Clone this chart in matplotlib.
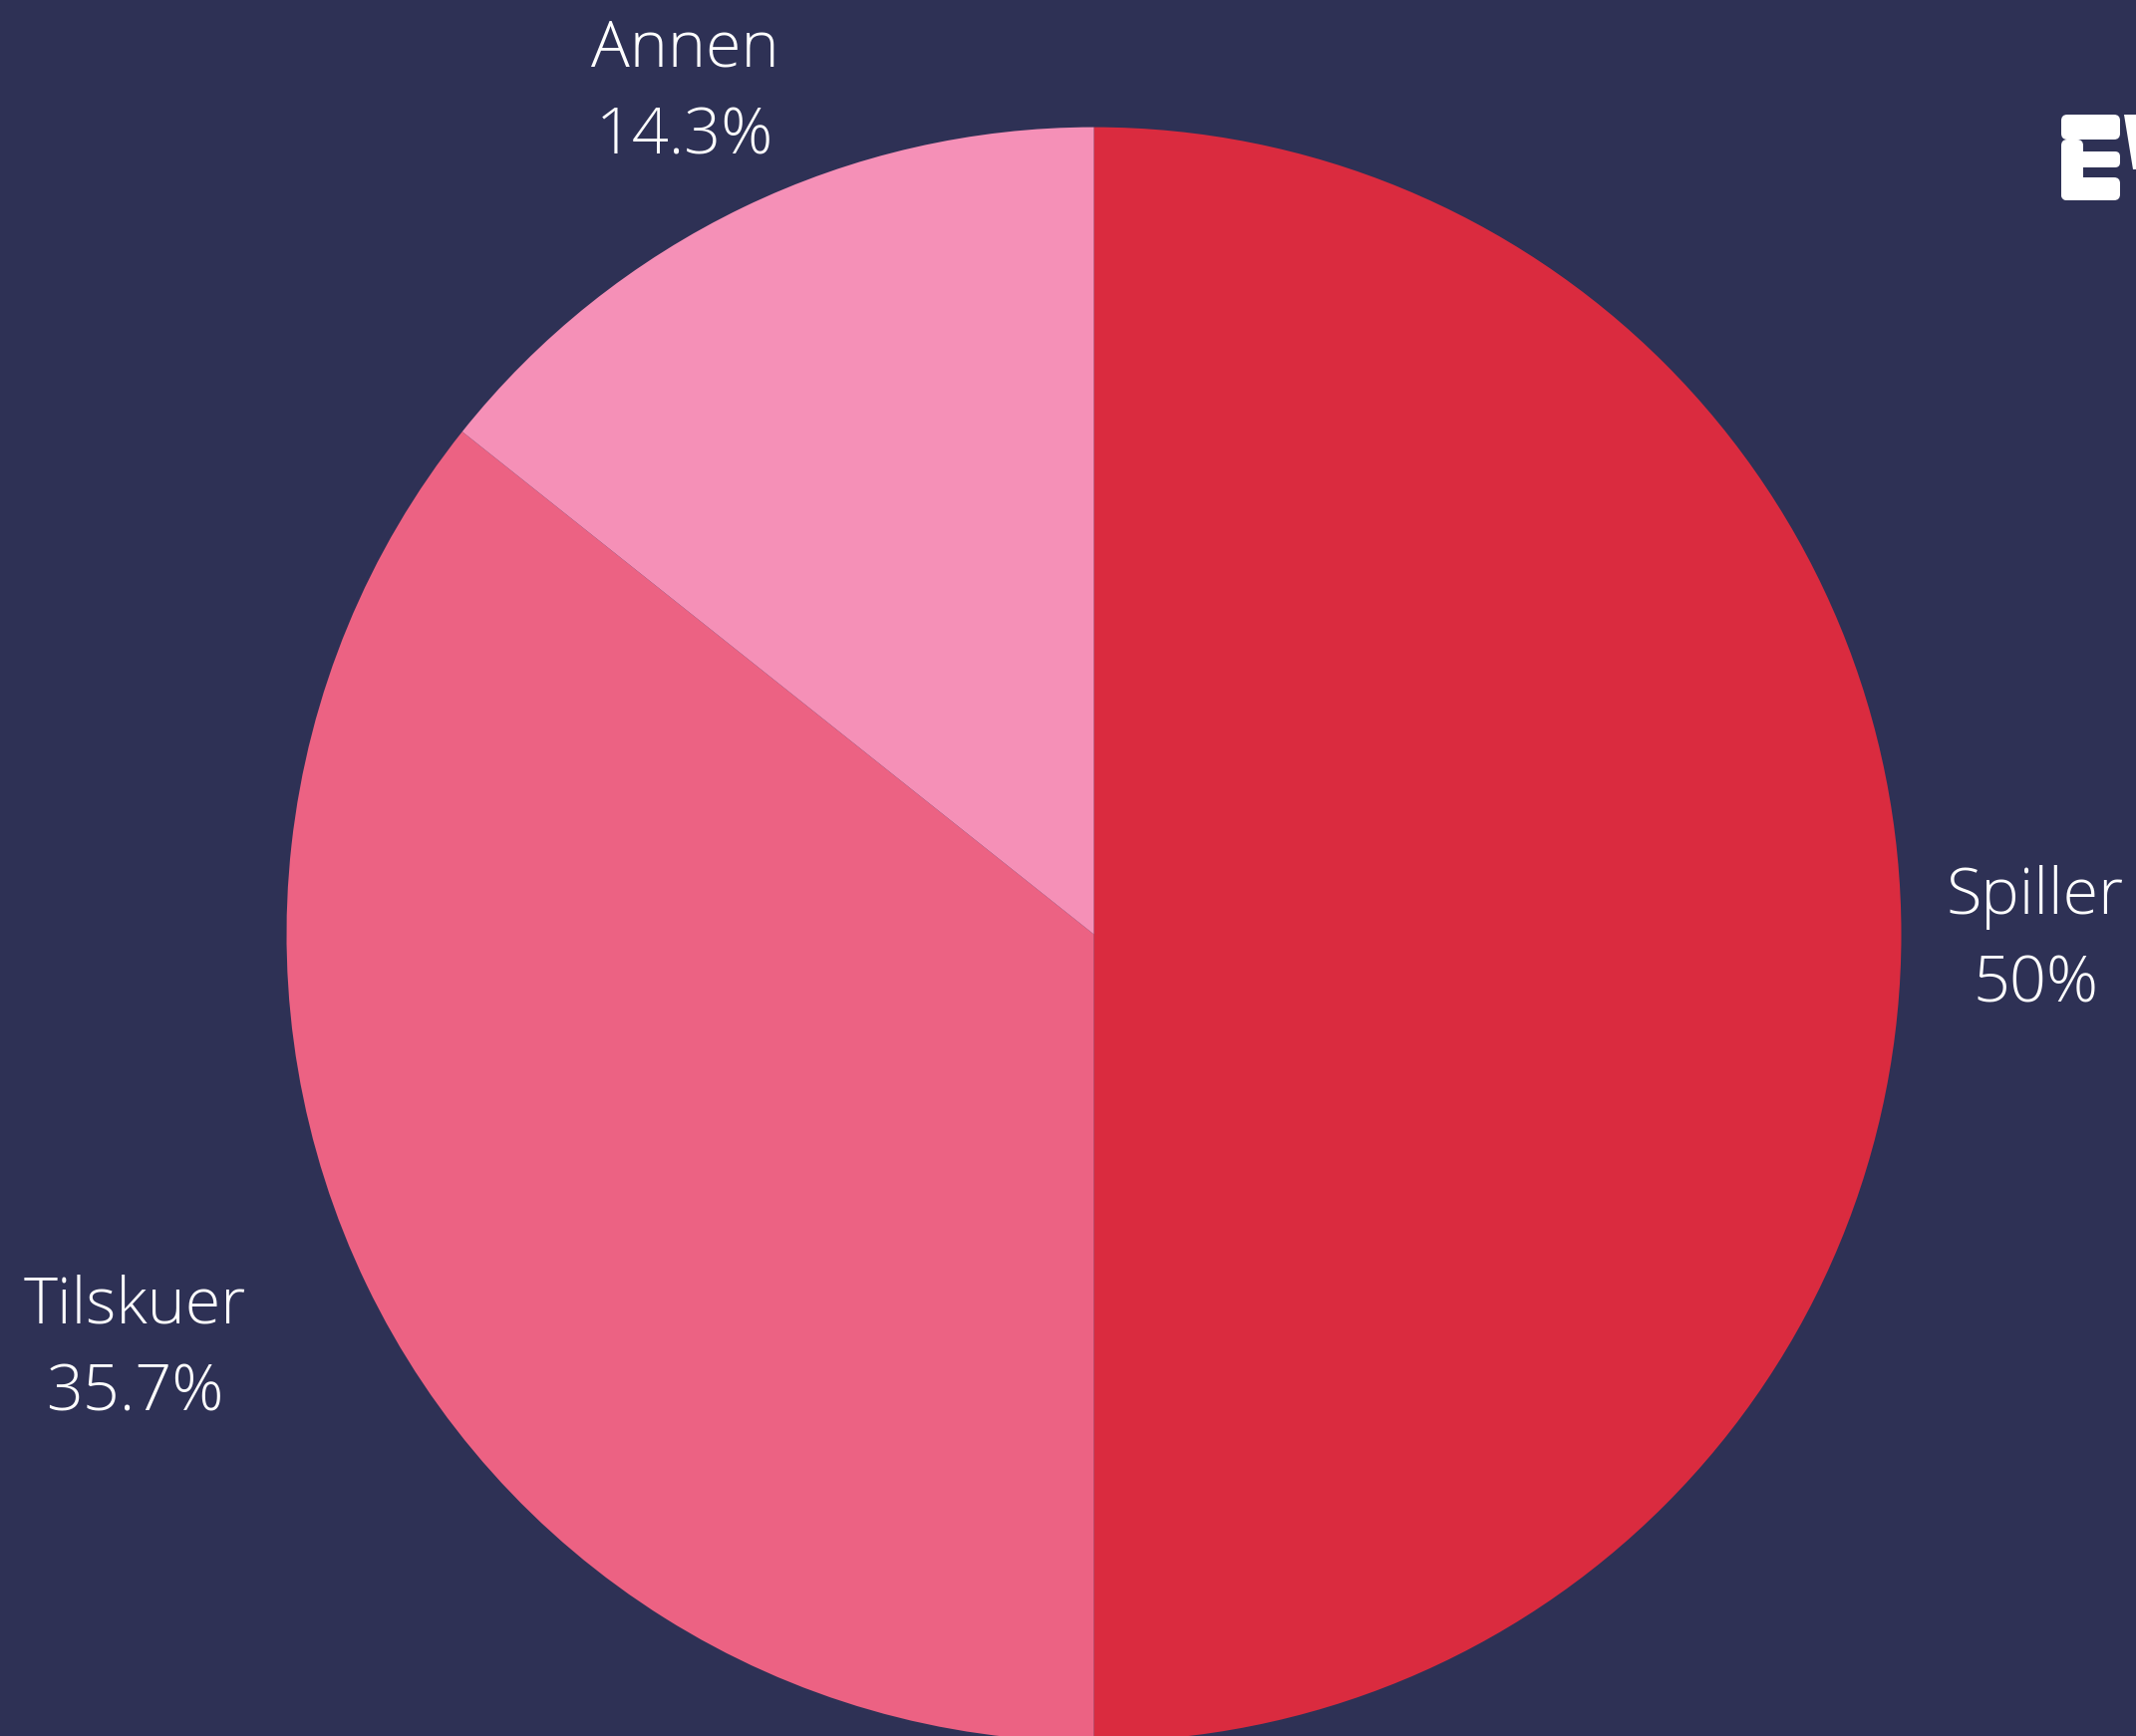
import matplotlib
matplotlib.use("Agg")
import matplotlib.pyplot as plt
from matplotlib.patches import FancyBboxPatch, Polygon

categories = ["Spiller", "Tilskuer", "Annen"]
values = [50.0, 35.7, 14.3]
labels_pct = ["50%", "35.7%", "14.3%"]
colors = ["#DA2B3F", "#EC6283", "#F590B7"]
bg = "#2E3155"

W, H = 2143, 1742
fig = plt.figure(figsize=(W / 100, H / 100), dpi=100, facecolor=bg)
ax = fig.add_axes([0, 0, 1, 1])
ax.set_facecolor(bg)

cx, cy, r = 1097.5, H - 937.6, 810
ax.pie(values, colors=colors, startangle=90, counterclock=False,
       center=(cx, cy), radius=r, wedgeprops=dict(linewidth=0))
ax.set_xlim(0, W)
ax.set_ylim(0, H)
ax.set_aspect("equal")
ax.axis("off")

# label positions (pixel coords from top)
label_pos = {"Spiller": (2042, 901), "Tilskuer": (135, 1311), "Annen": (687, 50)}
for cat, pct in zip(categories, labels_pct):
    x, y = label_pos[cat]
    ax.text(x, H - y, cat, ha="center", va="center", color="white",
            fontsize=46.5, family="Open Sans", fontweight=300)
    ax.text(x, H - (y + 88), pct, ha="center", va="center", color="white",
            fontsize=46.5, family="Open Sans", fontweight=300)

# partial logo at top right
def rr(x0, y0, x1, y1, rad=6):
    p = FancyBboxPatch((x0 + rad, H - y1 + rad), (x1 - x0) - 2 * rad, (y1 - y0) - 2 * rad,
                       boxstyle=f"round,pad={rad}", facecolor="white", edgecolor="none",
                       clip_on=False)
    ax.add_patch(p)

rr(2068, 115, 2127, 140)
rr(2068, 140, 2090, 201)
rr(2072, 152, 2127, 168, rad=5)
rr(2068, 178, 2127, 201)
ax.add_patch(Polygon([(2131, H - 115), (2143, H - 115), (2143, H - 170), (2140, H - 170)],
                     closed=True, facecolor="white", edgecolor="none"))

fig.savefig("out.png", dpi=100, facecolor=bg)
